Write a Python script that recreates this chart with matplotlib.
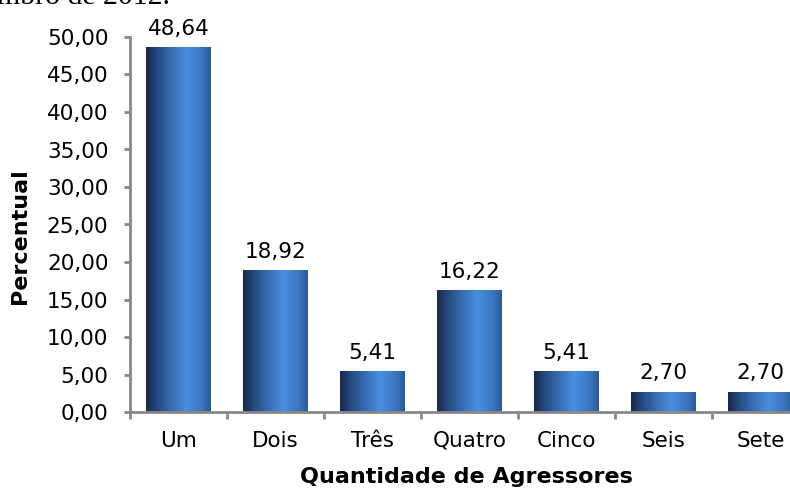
import numpy as np
import matplotlib
matplotlib.use("Agg")
import matplotlib.pyplot as plt
from matplotlib.colors import LinearSegmentedColormap
from matplotlib.ticker import FuncFormatter, MultipleLocator

categorias = ["Um", "Dois", "Três", "Quatro", "Cinco", "Seis", "Sete"]
percentual = [48.64, 18.92, 5.41, 16.22, 5.41, 2.70, 2.70]

plt.rcParams["font.family"] = ["DejaVu Sans"]

def virgula(v, pos=None):
    return f"{v:.2f}".replace(".", ",")

cmap = LinearSegmentedColormap.from_list(
    "cilindro",
    [(0.0, "#16284a"), (0.15, "#23467a"), (0.4, "#386fb6"),
     (0.62, "#4a8ede"), (0.85, "#3b77c2"), (1.0, "#2a5b9b")],
)
grad = np.linspace(0, 1, 256).reshape(1, -1)

fig = plt.figure(figsize=(7.9, 4.9), dpi=100)
ax = fig.add_axes([130 / 790, 78 / 490, 679 / 790, 375 / 490])

x = np.arange(len(categorias))
bars = ax.bar(x, percentual, width=0.67, color="none", edgecolor="none", zorder=2)
for b in bars:
    im = ax.imshow(grad, cmap=cmap, aspect="auto", zorder=2,
                   extent=[b.get_x(), b.get_x() + b.get_width(), 0, b.get_height()])
    im.set_clip_path(b)

ax.bar_label(bars, labels=[virgula(v) for v in percentual], padding=6, fontsize=15.5)

ax.set_xlim(-0.5, len(categorias) - 0.5)
ax.set_ylim(0, 50)
ax.yaxis.set_major_locator(MultipleLocator(5))
ax.yaxis.set_major_formatter(FuncFormatter(virgula))

ax.set_xticks(x)
ax.set_xticklabels(categorias)
ax.set_xticks(np.arange(-0.5, len(categorias)), minor=True)
for lbl in ax.get_xticklabels():
    lbl.set_verticalalignment("baseline")

for s in ["top", "right"]:
    ax.spines[s].set_visible(False)
for s in ["left", "bottom"]:
    ax.spines[s].set_color("#888888")
    ax.spines[s].set_linewidth(2.0)

ax.tick_params(axis="x", which="major", length=0, pad=25, labelsize=15.5)
ax.tick_params(axis="x", which="minor", length=5, width=2.0, color="#888888", direction="out")
ax.tick_params(axis="y", length=4, width=2.0, color="#888888", pad=11.5, labelsize=15.5)

ax.set_ylabel("Percentual", fontsize=16, fontweight="bold")
ax.yaxis.set_label_coords(-0.147, 0.47)
ax.set_xlabel("Quantidade de Agressores", fontsize=16, fontweight="bold")
ax.xaxis.set_label_coords(0.495, -0.147)

# resto da legenda do documento, cortada no topo
fig.text(-3 / 790, 1 - 4 / 490, "mbro de 2012.", family="Liberation Serif",
         fontsize=21.5, va="baseline", ha="left")

fig.savefig("out.png", dpi=100)
